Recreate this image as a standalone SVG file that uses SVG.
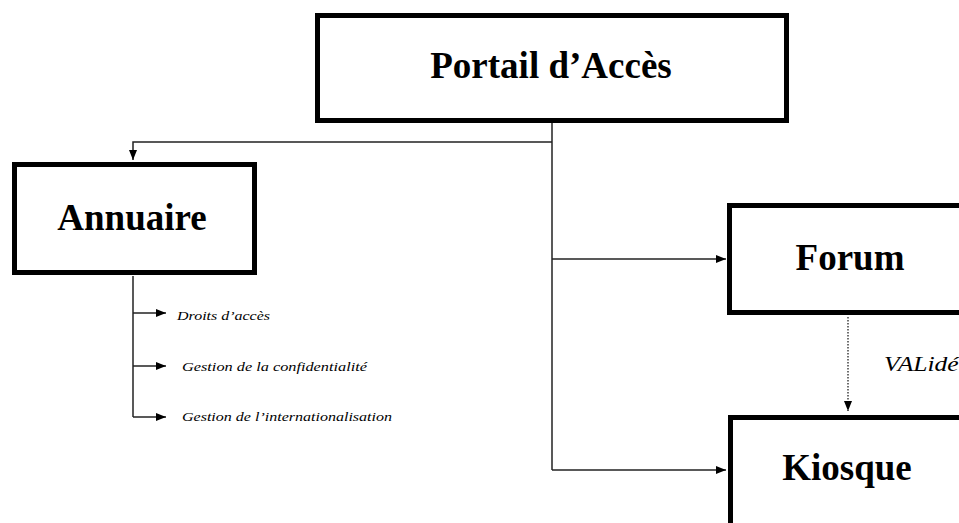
<svg xmlns="http://www.w3.org/2000/svg" width="959" height="523" viewBox="0 0 959 523">
<style>
.box{fill:#fff;stroke:#000;stroke-width:5}
.title{font-family:"Liberation Serif",serif;font-weight:bold;font-size:37px;fill:#000;text-anchor:middle}
.lbl{font-family:"Liberation Serif",serif;font-style:italic;font-size:13px;fill:#000}
.ln{fill:none;stroke:#222;stroke-width:1.5}
.dot{fill:none;stroke:#222;stroke-width:1.3;stroke-dasharray:1.5 1.5}
</style>
<defs>
<marker id="ah" markerWidth="10" markerHeight="8" refX="10" refY="4" orient="auto" markerUnits="userSpaceOnUse">
<path d="M0,0 L10,4 L0,8 Z" fill="#000"/>
</marker>
</defs>
<rect width="959" height="523" fill="#fff"/>
<g id="connectors">
<path class="ln" d="M552,123 V470"/>
<path class="ln" d="M552,142 H133 V160" marker-end="url(#ah)"/>
<path class="ln" d="M552,259 H726" marker-end="url(#ah)"/>
<path class="ln" d="M552,470 H726" marker-end="url(#ah)"/>
<path class="ln" d="M133,276 V417"/>
<path class="ln" d="M133,313 H166" marker-end="url(#ah)"/>
<path class="ln" d="M133,366 H166" marker-end="url(#ah)"/>
<path class="ln" d="M133,417 H166" marker-end="url(#ah)"/>
<path class="dot" d="M848,317 V411" marker-end="url(#ah)"/>
<text class="lbl" x="884" y="371" style="font-size:21px" textLength="86" lengthAdjust="spacingAndGlyphs">VALidée</text>
</g>
<g id="portail">
<rect class="box" x="317.5" y="15.5" width="469" height="105"/>
<text class="title" x="551" y="78">Portail d’Accès</text>
</g>
<g id="annuaire">
<rect class="box" x="14.5" y="164.5" width="240" height="108"/>
<text class="title" x="132" y="230">Annuaire</text>
</g>
<g id="forum">
<rect class="box" x="729.5" y="205.5" width="300" height="107"/>
<text class="title" x="850" y="270">Forum</text>
</g>
<g id="kiosque">
<rect class="box" x="730.5" y="417.5" width="300" height="200"/>
<text class="title" x="847" y="480">Kiosque</text>
</g>
<g id="droits">
<text class="lbl" x="177" y="320" textLength="93" lengthAdjust="spacingAndGlyphs">Droits d’accès</text>
</g>
<g id="confidentialite">
<text class="lbl" x="182" y="371" textLength="185" lengthAdjust="spacingAndGlyphs">Gestion de la confidentialité</text>
</g>
<g id="internationalisation">
<text class="lbl" x="182" y="421" textLength="210" lengthAdjust="spacingAndGlyphs">Gestion de l’internationalisation</text>
</g>
</svg>
